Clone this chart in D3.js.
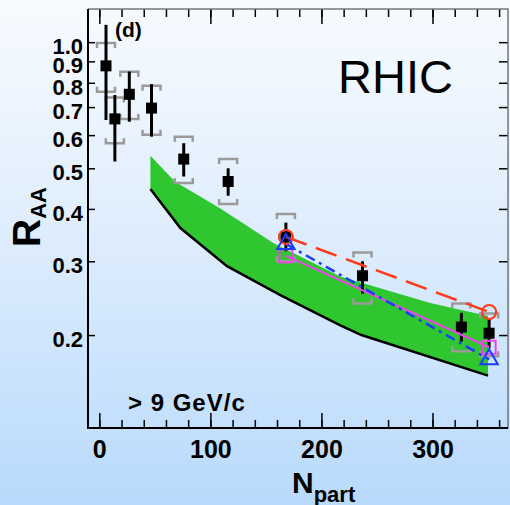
<!DOCTYPE html>
<html>
<head>
<meta charset="utf-8">
<script src="https://cdn.jsdelivr.net/npm/d3@7"></script>
<style>
body { margin: 0; }
svg text { font-family: "Liberation Sans", Arial, sans-serif; }
</style>
</head>
<body>
<svg width="510" height="505"></svg>
<script>
// PHENIX pi0 data (black squares)
var npart = [6, 14, 27, 47, 76, 116, 168, 237, 326, 351];
var raa = [0.878, 0.656, 0.751, 0.696, 0.526, 0.465, 0.343, 0.277, 0.209, 0.202];
var statLo = [0.652, 0.519, 0.646, 0.595, 0.478, 0.43, 0.317, 0.251, 0.193, 0.186];
var statHi = [1.10, 0.748, 0.851, 0.794, 0.574, 0.50, 0.371, 0.30, 0.226, 0.219];
var sysLo = [0.762, 0.574, 0.656, 0.601, 0.461, 0.411, 0.30, 0.238, 0.183, 0.178];
var sysHi = [0.995, 0.738, 0.85, 0.787, 0.595, 0.526, 0.389, 0.315, 0.238, 0.225];

// green band
var bandN = [46, 68, 109, 157, 217, 298, 350];
var bandHi = [0.536, 0.465, 0.401, 0.331, 0.276, 0.2385, 0.222];
var bandLineN = [46, 73, 115, 163, 217, 236, 350];
var bandLo = [0.446, 0.36, 0.292, 0.249, 0.211, 0.2, 0.16];

// model curves
var modelN = [168, 351];
var redVals = [0.343, 0.227];
var blueVals = [0.33, 0.175];
var magentaVals = [0.309, 0.187];

var xMajor = [0, 100, 200, 300];
var xMinor = d3.range(0, 361, 20);
var yTicks = [0.2, 0.3, 0.4, 0.5, 0.6, 0.7, 0.8, 0.9, 1.0];

var svg = d3.select("svg"),
    width = +svg.attr("width"),
    height = +svg.attr("height");

var pLeft = 88, pRight = 508, pTop = 9, pBottom = 428;

var x = d3.scaleLinear().domain([-10.2, 368]).range([pLeft, pRight]);
var y = d3.scaleLog().domain([0.12, 1.2]).range([pBottom, pTop]);

var grad = svg.append("defs").append("linearGradient")
    .attr("id", "bg")
    .attr("x1", 0).attr("y1", 0).attr("x2", 0).attr("y2", 1);
grad.append("stop").attr("offset", 0).attr("stop-color", "#f8fbff");
grad.append("stop").attr("offset", 0.5).attr("stop-color", "#dcecfd");
grad.append("stop").attr("offset", 1).attr("stop-color", "#b8dafc");

svg.append("rect")
    .attr("width", width).attr("height", height)
    .attr("fill", "url(#bg)");

// band
var bandArea = bandN.map(function(n, i) { return [x(n), y(bandHi[i])]; });
var lowPts = bandLineN.map(function(n, i) { return [x(n), y(bandLo[i])]; });
svg.append("path")
    .attr("d", "M" + bandArea.join("L") + "L" + lowPts.slice().reverse().join("L") + "Z")
    .attr("fill", "#2fc62f");

svg.append("path")
    .attr("d", d3.line()(lowPts))
    .attr("fill", "none")
    .attr("stroke", "#000")
    .attr("stroke-width", 2.5);

// axes
var ax = svg.append("g");

ax.append("g")
    .attr("transform", "translate(0," + pBottom + ")")
    .call(d3.axisBottom(x).tickValues(xMinor).tickSize(-8).tickFormat(""));
var xAxis = ax.append("g")
    .attr("transform", "translate(0," + pBottom + ")")
    .call(d3.axisBottom(x).tickValues(xMajor).tickSize(-15).tickPadding(12).tickFormat(d3.format("d")));
ax.append("g")
    .attr("transform", "translate(0," + pTop + ")")
    .call(d3.axisTop(x).tickValues(xMinor).tickSize(-8).tickFormat(""));
ax.append("g")
    .attr("transform", "translate(0," + pTop + ")")
    .call(d3.axisTop(x).tickValues(xMajor).tickSize(-15).tickFormat(""));
var yAxis = ax.append("g")
    .attr("transform", "translate(" + pLeft + ",0)")
    .call(d3.axisLeft(y).tickValues(yTicks).tickSize(-7).tickPadding(5).tickFormat(d3.format(".1f")));
ax.append("g")
    .attr("transform", "translate(" + pRight + ",0)")
    .call(d3.axisRight(y).tickValues(yTicks).tickSize(-9).tickFormat(""));

ax.selectAll(".domain").remove();
ax.selectAll("line").attr("stroke", "#000").attr("stroke-width", 1.5);
ax.selectAll("text").attr("fill", "#000").attr("font-weight", "bold");
xAxis.selectAll("text").attr("font-size", 25);
yAxis.selectAll("text").attr("font-size", 22).attr("dy", "0.52em");

// frame
svg.append("path")
    .attr("d", "M" + pLeft + "," + pTop + "H" + pRight + "V" + pBottom)
    .attr("fill", "none").attr("stroke", "#777").attr("stroke-width", 1.5);
svg.append("path")
    .attr("d", "M" + pLeft + "," + pTop + "V" + pBottom + "H" + pRight)
    .attr("fill", "none").attr("stroke", "#000").attr("stroke-width", 2);

// systematic brackets
var bw = 9, leg = 5;
var sys = svg.append("g").attr("fill", "none").attr("stroke", "#9a9a9a").attr("stroke-width", 2.5);
sys.selectAll("path.hi").data(npart).enter().append("path")
    .attr("class", "hi")
    .attr("d", function(d, i) {
        var cx = x(d), cy = y(sysHi[i]);
        return "M" + (cx - bw) + "," + (cy + leg) + "V" + cy + "H" + (cx + bw) + "V" + (cy + leg);
    });
sys.selectAll("path.lo").data(npart).enter().append("path")
    .attr("class", "lo")
    .attr("d", function(d, i) {
        var cx = x(d), cy = y(sysLo[i]);
        return "M" + (cx - bw) + "," + (cy - leg) + "V" + cy + "H" + (cx + bw) + "V" + (cy - leg);
    });

// stat error bars and points
svg.append("g").selectAll("line").data(npart).enter().append("line")
    .attr("x1", function(d) { return x(d); })
    .attr("x2", function(d) { return x(d); })
    .attr("y1", function(d, i) { return y(statHi[i]); })
    .attr("y2", function(d, i) { return y(statLo[i]); })
    .attr("stroke", "#000")
    .attr("stroke-width", 3);

var sq = 11;
svg.append("g").selectAll("rect").data(npart).enter().append("rect")
    .attr("x", function(d) { return x(d) - sq / 2; })
    .attr("y", function(d, i) { return y(raa[i]) - sq / 2; })
    .attr("width", sq).attr("height", sq)
    .attr("fill", "#000");

// model lines
var line = d3.line()
    .x(function(d) { return x(d[0]); })
    .y(function(d) { return y(d[1]); });

function pairs(vals) {
    return modelN.map(function(n, i) { return [n, vals[i]]; });
}

svg.append("path")
    .attr("d", line(pairs(magentaVals)))
    .attr("fill", "none").attr("stroke", "#ee44ee").attr("stroke-width", 2);
svg.append("path")
    .attr("d", line(pairs(blueVals)))
    .attr("fill", "none").attr("stroke", "#1a3cff").attr("stroke-width", 2.5)
    .attr("stroke-dasharray", "10,5,3,5");
svg.append("path")
    .attr("d", line(pairs(redVals)))
    .attr("fill", "none").attr("stroke", "#ff3a1a").attr("stroke-width", 2.5)
    .attr("stroke-dasharray", "22,10");

// model markers
svg.append("g").selectAll("circle").data(modelN).enter().append("circle")
    .attr("cx", function(d) { return x(d); })
    .attr("cy", function(d, i) { return y(redVals[i]); })
    .attr("r", 7)
    .attr("fill", "none").attr("stroke", "#ff3a1a").attr("stroke-width", 2);

svg.append("g").selectAll("rect").data(modelN).enter().append("rect")
    .attr("x", function(d) { return x(d) - 6.5; })
    .attr("y", function(d, i) { return y(magentaVals[i]) - 6.5; })
    .attr("width", 13).attr("height", 13)
    .attr("fill", "none").attr("stroke", "#ee44ee").attr("stroke-width", 2);

svg.append("g").selectAll("path").data(modelN).enter().append("path")
    .attr("d", d3.symbol().type(d3.symbolTriangle).size(130))
    .attr("transform", function(d, i) { return "translate(" + x(d) + "," + y(blueVals[i]) + ")"; })
    .attr("fill", "none").attr("stroke", "#1a3cff").attr("stroke-width", 2);

// labels
svg.append("text")
    .attr("x", 115).attr("y", 37)
    .attr("font-size", 21).attr("font-weight", "bold")
    .text("(d)");

svg.append("text")
    .attr("x", 338).attr("y", 93)
    .attr("font-size", 47)
    .text("RHIC");

svg.append("text")
    .attr("x", 128).attr("y", 411)
    .attr("font-size", 24).attr("font-weight", "bold")
    .attr("letter-spacing", 1)
    .text("> 9 GeV/c");

var xt = svg.append("text")
    .attr("x", 292).attr("y", 493)
    .attr("font-weight", "bold");
xt.append("tspan").attr("font-size", 30).text("N");
xt.append("tspan").attr("font-size", 22).attr("dy", 9).text("part");

var yt = svg.append("text")
    .attr("transform", "translate(40,247) rotate(-90)")
    .attr("font-weight", "bold");
yt.append("tspan").attr("font-size", 39).text("R");
yt.append("tspan").attr("font-size", 22).attr("dy", 6).text("AA");
</script>
</body>
</html>
